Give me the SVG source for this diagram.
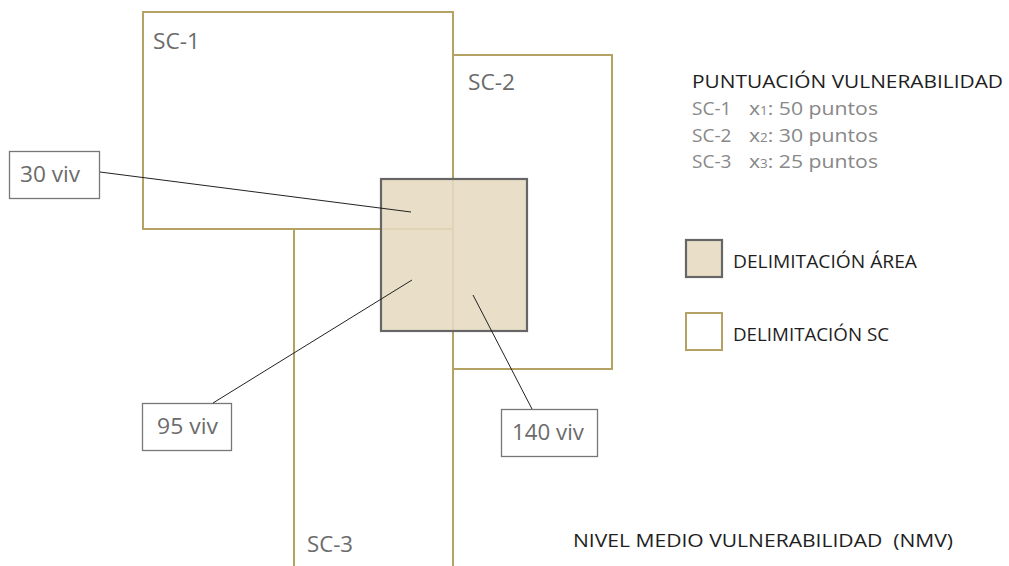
<svg xmlns="http://www.w3.org/2000/svg" width="1009" height="566" viewBox="0 0 1009 566">
<style>
.sc{fill:none;stroke:#b3a263;stroke-width:2}
.area{fill:#e6dbc1;fill-opacity:0.88;stroke:#666;stroke-width:2.2}
.lbl{fill:#fff;stroke:#777;stroke-width:1.3}
.con{stroke:#222;stroke-width:1;fill:none}
text{font-family:"Open Sans","Noto Sans",sans-serif}
.g{fill:#6b6b6b;font-size:22px}
.h{fill:#1e1e1e;font-size:19px}
.l{fill:#888;font-size:19px}
</style>
<rect width="1009" height="566" fill="#fff"/>
<g id="sc1"><rect class="sc" x="143" y="12" width="310" height="217"/><text class="g" x="153" y="49" textLength="47" lengthAdjust="spacingAndGlyphs">SC-1</text></g>
<g id="sc2"><rect class="sc" x="453" y="55" width="159" height="314"/><text class="g" x="468" y="90" textLength="47" lengthAdjust="spacingAndGlyphs">SC-2</text></g>
<g id="sc3"><rect class="sc" x="294" y="229" width="159" height="345"/><text class="g" x="307" y="552" textLength="46" lengthAdjust="spacingAndGlyphs">SC-3</text></g>
<g id="area"><rect class="area" x="381" y="179" width="146" height="152"/></g>
<g id="lbl30"><rect class="lbl" x="9.5" y="151.5" width="90" height="47"/><text class="g" x="20" y="182" textLength="60" lengthAdjust="spacingAndGlyphs">30 viv</text></g>
<g id="lbl95"><rect class="lbl" x="142.5" y="403.5" width="89" height="47"/><text class="g" x="157" y="434" textLength="61" lengthAdjust="spacingAndGlyphs">95 viv</text></g>
<g id="lbl140"><rect class="lbl" x="501.5" y="409.5" width="96" height="47"/><text class="g" x="512" y="440" textLength="72" lengthAdjust="spacingAndGlyphs">140 viv</text></g>
<g id="connectors">
<line class="con" x1="100" y1="172" x2="411" y2="212"/>
<line class="con" x1="213" y1="403" x2="412" y2="280"/>
<line class="con" x1="532" y1="409" x2="473" y2="295"/>
</g>
<g id="legend-score">
<text class="h" x="692" y="88" font-size="20" textLength="311" lengthAdjust="spacingAndGlyphs">PUNTUACIÓN VULNERABILIDAD</text>
<text class="l" x="692" y="115">SC-1</text><text class="l" x="749" y="115" textLength="129" lengthAdjust="spacingAndGlyphs">x<tspan font-size="12">1</tspan>: 50 puntos</text>
<text class="l" x="692" y="142">SC-2</text><text class="l" x="749" y="142" textLength="129" lengthAdjust="spacingAndGlyphs">x<tspan font-size="12">2</tspan>: 30 puntos</text>
<text class="l" x="692" y="168">SC-3</text><text class="l" x="749" y="168" textLength="129" lengthAdjust="spacingAndGlyphs">x<tspan font-size="12">3</tspan>: 25 puntos</text>
</g>
<g id="legend-area"><rect class="area" x="686" y="240" width="36" height="37" fill-opacity="1"/><text class="h" x="733" y="268" textLength="184" lengthAdjust="spacingAndGlyphs">DELIMITACIÓN ÁREA</text></g>
<g id="legend-sc"><rect class="sc" x="686" y="313" width="36" height="37" fill="#fff"/><text class="h" x="733" y="341" textLength="156" lengthAdjust="spacingAndGlyphs">DELIMITACIÓN SC</text></g>
<g id="nmv"><text class="h" x="573" y="547" textLength="380" lengthAdjust="spacingAndGlyphs" xml:space="preserve">NIVEL MEDIO VULNERABILIDAD  (NMV)</text></g>
</svg>
